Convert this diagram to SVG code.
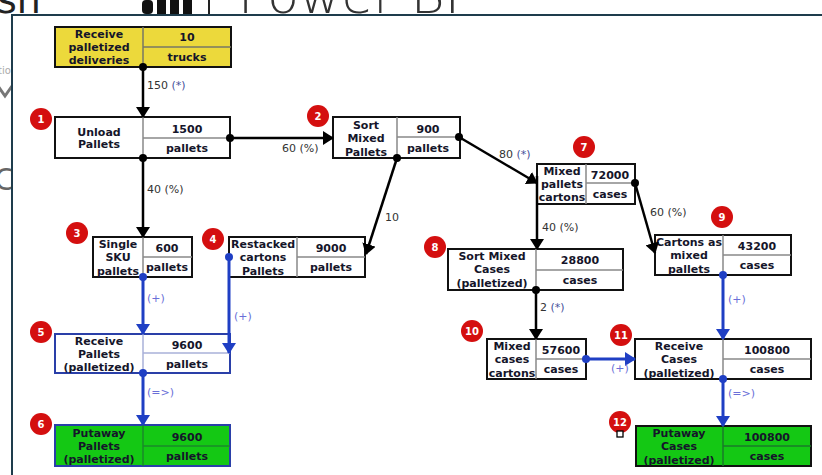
<svg xmlns="http://www.w3.org/2000/svg" width="822" height="475" viewBox="0 0 822 475">
<defs>
<style>
.bg{font-family:"DejaVu Sans","Liberation Sans",sans-serif}
.box{fill:#fff;stroke:#111;stroke-width:2}
.div{stroke:#888;stroke-width:1.5}
.t{font-family:"DejaVu Sans","Liberation Sans",sans-serif;font-size:11px;font-weight:bold;fill:#15152a;text-anchor:middle}
.lbl{font-family:"DejaVu Sans","Liberation Sans",sans-serif;font-size:11px;fill:#333}
.sym{fill:#44509a}
.bsym{fill:#6a6fd8}
.badge{fill:#d40f0f}
.bt{font-family:"DejaVu Sans","Liberation Sans",sans-serif;font-size:10px;font-weight:bold;fill:#fff;text-anchor:middle}
.k{stroke:#000;stroke-width:2.5;fill:none}
.b{stroke:#1f3fc4;stroke-width:3;fill:none}
.kd{fill:#000}
.bd{fill:#1f3fc4}
</style>
<marker id="ak" markerUnits="userSpaceOnUse" markerWidth="12" markerHeight="14" refX="10" refY="7" orient="auto"><path d="M0,0 L11,7 L0,14 z" fill="#000"/></marker>
<marker id="ab" markerUnits="userSpaceOnUse" markerWidth="12" markerHeight="14" refX="10" refY="7" orient="auto"><path d="M0,0 L11,7 L0,14 z" fill="#1f3fc4"/></marker>
</defs>
<rect x="0" y="0" width="822" height="475" fill="#fff"/>
<g id="background">
<text class="bg" x="-3" y="13" font-size="38" fill="#222">sh</text>
<rect x="142" y="0" width="11" height="14" rx="4" fill="#111"/>
<rect x="157" y="0" width="9" height="14" fill="#111"/>
<rect x="170" y="0" width="9" height="14" fill="#111"/>
<rect x="183" y="0" width="9" height="14" fill="#111"/>
<rect x="208" y="0" width="2" height="14" fill="#222"/>
<text class="bg" x="238" y="13" font-size="50" font-weight="300" fill="#333" textLength="222" lengthAdjust="spacingAndGlyphs">Power BI</text>
<text class="bg" x="-2" y="74" font-size="10" fill="#aaa">tio</text>
<path d="M-2,86 L5,96 L12,86" stroke="#777" stroke-width="3" fill="none"/>
<text class="bg" x="-6" y="190" font-size="30" fill="#666">C</text>
</g>
<g id="panel">
<rect x="12" y="15" width="812" height="462" fill="#fff"/>
<path d="M12,476 L12,15 L822,15" stroke="#1e3c4c" stroke-width="2" fill="none"/>
</g>
<g id="node-0">
<rect class="box" x="55" y="27" width="176" height="40" style="fill:#ecd93b"/>
<line class="div" x1="143" y1="27" x2="143" y2="67" style="stroke:#776"/>
<line class="div" x1="143" y1="47" x2="231" y2="47" style="stroke:#776"/>
<text class="t" x="99" y="38">Receive</text>
<text class="t" x="99" y="51">palletized</text>
<text class="t" x="99" y="64">deliveries</text>
<text class="t" x="187" y="41">10</text>
<text class="t" x="187" y="61">trucks</text>
</g>
<g id="node-1">
<rect class="box" x="55" y="117" width="175" height="41"/>
<line class="div" x1="143" y1="117" x2="143" y2="158"/>
<line class="div" x1="143" y1="138" x2="230" y2="138"/>
<text class="t" x="99" y="136">Unload</text>
<text class="t" x="99" y="148">Pallets</text>
<text class="t" x="187" y="133">1500</text>
<text class="t" x="187" y="152">pallets</text>
<circle class="badge" cx="41" cy="119" r="11"/>
<text class="bt" x="41" y="123">1</text>
</g>
<g id="node-2">
<rect class="box" x="333" y="117" width="127" height="41"/>
<line class="div" x1="397" y1="117" x2="397" y2="158"/>
<line class="div" x1="397" y1="137" x2="460" y2="137"/>
<text class="t" x="366" y="129">Sort</text>
<text class="t" x="366" y="142">Mixed</text>
<text class="t" x="366" y="156">Pallets</text>
<text class="t" x="428" y="133">900</text>
<text class="t" x="428" y="152">pallets</text>
<circle class="badge" cx="318" cy="116" r="11"/>
<text class="bt" x="318" y="120">2</text>
</g>
<g id="node-3">
<rect class="box" x="93" y="237" width="99" height="40"/>
<line class="div" x1="143" y1="237" x2="143" y2="277"/>
<line class="div" x1="143" y1="257" x2="192" y2="257"/>
<text class="t" x="118" y="248">Single</text>
<text class="t" x="118" y="261">SKU</text>
<text class="t" x="118" y="275">pallets</text>
<text class="t" x="167" y="252">600</text>
<text class="t" x="167" y="271">pallets</text>
<circle class="badge" cx="77" cy="233" r="11"/>
<text class="bt" x="77" y="237">3</text>
</g>
<g id="node-4">
<rect class="box" x="229" y="237" width="136" height="40"/>
<line class="div" x1="297" y1="237" x2="297" y2="277"/>
<line class="div" x1="297" y1="257" x2="365" y2="257"/>
<text class="t" x="263" y="248">Restacked</text>
<text class="t" x="263" y="261">cartons</text>
<text class="t" x="263" y="275">Pallets</text>
<text class="t" x="331" y="252">9000</text>
<text class="t" x="331" y="271">pallets</text>
<circle class="badge" cx="213" cy="239" r="11"/>
<text class="bt" x="213" y="243">4</text>
</g>
<g id="node-5">
<rect class="box" x="55" y="334" width="175" height="39" style="stroke:#2a3fa8"/>
<line class="div" x1="143" y1="334" x2="143" y2="373" style="stroke:#a8b0d8"/>
<line class="div" x1="143" y1="353" x2="230" y2="353" style="stroke:#a8b0d8"/>
<text class="t" x="99" y="345">Receive</text>
<text class="t" x="99" y="358">Pallets</text>
<text class="t" x="99" y="371">(palletized)</text>
<text class="t" x="187" y="349">9600</text>
<text class="t" x="187" y="368">pallets</text>
<circle class="badge" cx="41" cy="332" r="11"/>
<text class="bt" x="41" y="336">5</text>
</g>
<g id="node-6">
<rect class="box" x="55" y="425" width="175" height="41" style="fill:#14c814;stroke:#2a3fa8"/>
<line class="div" x1="143" y1="425" x2="143" y2="466" style="stroke:#1a8a2a"/>
<line class="div" x1="143" y1="446" x2="230" y2="446" style="stroke:#1a8a2a"/>
<text class="t" x="99" y="437">Putaway</text>
<text class="t" x="99" y="450">Pallets</text>
<text class="t" x="99" y="463">(palletized)</text>
<text class="t" x="187" y="441">9600</text>
<text class="t" x="187" y="460">pallets</text>
<circle class="badge" cx="41" cy="424" r="11"/>
<text class="bt" x="41" y="428">6</text>
</g>
<g id="node-7">
<rect class="box" x="537" y="164" width="98" height="40"/>
<line class="div" x1="586" y1="164" x2="586" y2="204"/>
<line class="div" x1="586" y1="183" x2="635" y2="183"/>
<text class="t" x="562" y="175">Mixed</text>
<text class="t" x="562" y="188">pallets</text>
<text class="t" x="562" y="201">cartons</text>
<text class="t" x="610" y="179">72000</text>
<text class="t" x="610" y="198">cases</text>
<circle class="badge" cx="584" cy="147" r="11"/>
<text class="bt" x="584" y="151">7</text>
</g>
<g id="node-8">
<rect class="box" x="448" y="249" width="175" height="41"/>
<line class="div" x1="536" y1="249" x2="536" y2="290"/>
<line class="div" x1="536" y1="270" x2="623" y2="270"/>
<text class="t" x="492" y="260">Sort Mixed</text>
<text class="t" x="492" y="273">Cases</text>
<text class="t" x="492" y="287">(palletized)</text>
<text class="t" x="580" y="264">28800</text>
<text class="t" x="580" y="284">cases</text>
<circle class="badge" cx="435" cy="247" r="11"/>
<text class="bt" x="435" y="251">8</text>
</g>
<g id="node-9">
<rect class="box" x="655" y="235" width="136" height="40"/>
<line class="div" x1="723" y1="235" x2="723" y2="275"/>
<line class="div" x1="723" y1="255" x2="791" y2="255"/>
<text class="t" x="689" y="246">Cartons as</text>
<text class="t" x="689" y="259">mixed</text>
<text class="t" x="689" y="273">pallets</text>
<text class="t" x="757" y="250">43200</text>
<text class="t" x="757" y="269">cases</text>
<circle class="badge" cx="722" cy="217" r="11"/>
<text class="bt" x="722" y="221">9</text>
</g>
<g id="node-10">
<rect class="box" x="487" y="339" width="99" height="40"/>
<line class="div" x1="536" y1="339" x2="536" y2="379"/>
<line class="div" x1="536" y1="359" x2="586" y2="359"/>
<text class="t" x="512" y="350">Mixed</text>
<text class="t" x="512" y="363">cases</text>
<text class="t" x="512" y="377">cartons</text>
<text class="t" x="561" y="354">57600</text>
<text class="t" x="561" y="373">cases</text>
<circle class="badge" cx="472" cy="331" r="11"/>
<text class="bt" x="472" y="335">10</text>
</g>
<g id="node-11">
<rect class="box" x="635" y="339" width="176" height="40"/>
<line class="div" x1="723" y1="339" x2="723" y2="379"/>
<line class="div" x1="723" y1="359" x2="811" y2="359"/>
<text class="t" x="679" y="350">Receive</text>
<text class="t" x="679" y="363">Cases</text>
<text class="t" x="679" y="377">(palletized)</text>
<text class="t" x="767" y="354">100800</text>
<text class="t" x="767" y="373">cases</text>
<circle class="badge" cx="621" cy="335" r="11"/>
<text class="bt" x="621" y="339">11</text>
</g>
<g id="node-12">
<rect class="box" x="636" y="426" width="175" height="40" style="fill:#14c814"/>
<line class="div" x1="723" y1="426" x2="723" y2="466" style="stroke:#1a7a2a"/>
<line class="div" x1="723" y1="446" x2="811" y2="446" style="stroke:#1a7a2a"/>
<text class="t" x="679" y="437">Putaway</text>
<text class="t" x="679" y="450">Cases</text>
<text class="t" x="679" y="464">(palletized)</text>
<text class="t" x="767" y="441">100800</text>
<text class="t" x="767" y="460">cases</text>
<circle class="badge" cx="620" cy="422" r="11"/>
<text class="bt" x="620" y="426">12</text>
<rect x="617" y="431" width="6" height="6" fill="#fff" stroke="#000" stroke-width="1.3"/>
</g>
<g id="connectors">
<line class="k" x1="143" y1="67" x2="143" y2="117" marker-end="url(#ak)"/>
<circle class="kd" cx="143" cy="67" r="4"/>
<text class="lbl" x="147" y="89">150 <tspan class="sym">(*)</tspan></text>
<line class="k" x1="230" y1="138" x2="333" y2="138" marker-end="url(#ak)"/>
<circle class="kd" cx="230" cy="138" r="4"/>
<text class="lbl" x="282" y="152">60 (%)</text>
<line class="k" x1="143" y1="158" x2="143" y2="237" marker-end="url(#ak)"/>
<circle class="kd" cx="143" cy="158" r="4"/>
<text class="lbl" x="147" y="193">40 (%)</text>
<line class="k" x1="397" y1="158" x2="366" y2="254" marker-end="url(#ak)"/>
<circle class="kd" cx="397" cy="158" r="4"/>
<text class="lbl" x="385" y="221">10</text>
<line class="k" x1="459" y1="137" x2="537" y2="183" marker-end="url(#ak)"/>
<circle class="kd" cx="459" cy="137" r="4"/>
<text class="lbl" x="499" y="158">80 <tspan class="sym">(*)</tspan></text>
<line class="k" x1="537" y1="176" x2="537" y2="249" marker-end="url(#ak)"/>
<text class="lbl" x="542" y="231">40 (%)</text>
<line class="k" x1="635" y1="183" x2="655" y2="253" marker-end="url(#ak)"/>
<circle class="kd" cx="635" cy="183" r="4"/>
<text class="lbl" x="650" y="216">60 (%)</text>
<line class="k" x1="536" y1="290" x2="536" y2="339" marker-end="url(#ak)"/>
<circle class="kd" cx="536" cy="290" r="4"/>
<text class="lbl" x="540" y="311">2 <tspan class="sym">(*)</tspan></text>
<line class="b" x1="143" y1="277" x2="143" y2="334" marker-end="url(#ab)"/>
<circle class="bd" cx="143" cy="277" r="4"/>
<text class="lbl bsym" x="147" y="302">(+)</text>
<line class="b" x1="229" y1="257" x2="229" y2="353" marker-end="url(#ab)"/>
<circle class="bd" cx="229" cy="257" r="4"/>
<text class="lbl bsym" x="234" y="320">(+)</text>
<line class="b" x1="143" y1="373" x2="143" y2="425" marker-end="url(#ab)"/>
<circle class="bd" cx="143" cy="373" r="4"/>
<text class="lbl bsym" x="147" y="396">(=&gt;)</text>
<line class="b" x1="586" y1="359" x2="635" y2="359" marker-end="url(#ab)"/>
<circle class="bd" cx="586" cy="359" r="4"/>
<text class="lbl bsym" x="611" y="372">(+)</text>
<line class="b" x1="723" y1="275" x2="723" y2="339" marker-end="url(#ab)"/>
<circle class="bd" cx="723" cy="275" r="4"/>
<text class="lbl bsym" x="728" y="303">(+)</text>
<line class="b" x1="723" y1="379" x2="723" y2="426" marker-end="url(#ab)"/>
<circle class="bd" cx="723" cy="379" r="4"/>
<text class="lbl bsym" x="728" y="397">(=&gt;)</text>
</g>
</svg>
